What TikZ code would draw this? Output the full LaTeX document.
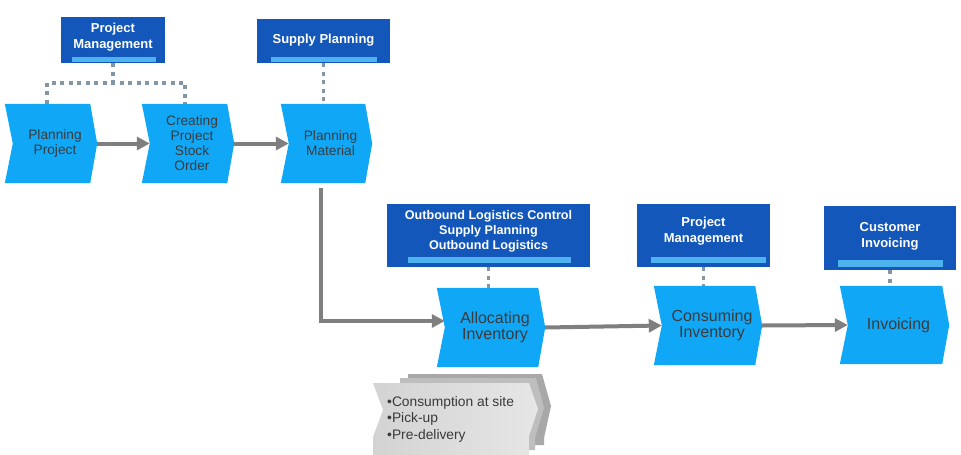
\documentclass[tikz,border=0pt]{standalone}
\usepackage{fontspec}
\setmainfont{Liberation Sans}
\usetikzlibrary{arrows.meta,backgrounds,calc}
\definecolor{chevblue}{HTML}{10A8F6}
\definecolor{boxblue}{HTML}{1257B9}
\definecolor{barblue}{HTML}{4EB2EE}
\definecolor{dotgray}{HTML}{8296A6}
\definecolor{arrgray}{HTML}{7F7F7F}
\definecolor{txtgray}{HTML}{3A3A3A}
\definecolor{stackA}{HTML}{A8A8A8}
\definecolor{stackB}{HTML}{BEBEBE}
\definecolor{stackL}{HTML}{D3D3D3}
\definecolor{stackR}{HTML}{E6E6E6}
\newcommand\chevshape[1]{%
  \fill[chevblue] ([xshift=-8pt]#1.north west) -- ([xshift=-7pt]#1.north east) -- (#1.east)
    -- ([xshift=-7pt]#1.south east) -- ([xshift=-8pt]#1.south west) -- (#1.west) -- cycle;}
\tikzset{
  chevtop/.style={rectangle, inner sep=0, align=center, text=txtgray,
    font=\fontsize{13.7}{15}\selectfont},
  chevlow/.style={rectangle, inner sep=0, align=center, text=txtgray,
    font=\fontsize{16}{16.7}\selectfont},
  bluebox/.style={rectangle, fill=boxblue, inner sep=0},
  boxtxt/.style={inner sep=0, align=center, text=white,
    font=\bfseries\fontsize{13}{16}\selectfont},
  bar/.style={fill=barblue},
  dotline/.style={draw=dotgray, line width=3.5pt, dash pattern=on 4pt off 4.5pt},
  flow/.style={draw=arrgray, line width=4pt, -{Triangle[length=13pt,width=13pt]}},
}
\begin{document}
\begin{tikzpicture}[x=1pt,y=-1pt]
\useasboundingbox (0,0) rectangle (961,455);

% ---- chevrons (node = notch..tip)
\node[chevtop, minimum width=84, minimum height=79] (pp) at (55,143.5) {Planning\\Project};
\node[chevtop, minimum width=84, minimum height=79] (cpso) at (192,143.5) {Creating\\Project\\Stock\\Order};
\node[chevtop, minimum width=83, minimum height=79] (pmat) at (330.5,143.5) {Planning\\Material};
\node[chevlow, minimum width=100, minimum height=79] (alloc) at (495,327.5) {Allocating\\Inventory};
\node[chevlow, minimum width=100, minimum height=79] (cons) at (712,325.5) {Consuming\\Inventory};
\node[chevlow, minimum width=101, minimum height=78] (inv) at (898.5,325) {Invoicing};
\begin{pgfonlayer}{background}
\fill[white] (0,0) rectangle (961,455);
\chevshape{pp}\chevshape{cpso}\chevshape{pmat}
\chevshape{alloc}\chevshape{cons}\chevshape{inv}
\end{pgfonlayer}

% ---- blue role boxes
\node[bluebox, minimum width=104, minimum height=46] (pm1) at (113,40) {};
\fill[bar] ([xshift=11pt,yshift=1.5pt]pm1.south west) rectangle ([xshift=-9pt,yshift=6.5pt]pm1.south east);
\node[boxtxt] (pm1t) at (113,36.7) {Project\\Management};

\node[bluebox, minimum width=133, minimum height=44] (sp) at (323.5,41) {};
\fill[bar] ([xshift=14pt,yshift=1.5pt]sp.south west) rectangle ([xshift=-13pt,yshift=6.5pt]sp.south east);
\node[boxtxt] (spt) at (323.5,40.5) {Supply Planning};

\node[bluebox, minimum width=203, minimum height=63] (ob) at (488.5,235.5) {};
\fill[bar] ([xshift=21pt,yshift=4pt]ob.south west) rectangle ([xshift=-19pt,yshift=10pt]ob.south east);
\node[boxtxt, font=\bfseries\fontsize{12.6}{15}\selectfont] (obt) at (488.5,231)
  {Outbound Logistics Control\\Supply Planning\\Outbound Logistics};

\node[bluebox, minimum width=133, minimum height=63] (pm2) at (703.5,235.5) {};
\fill[bar] ([xshift=14pt,yshift=4pt]pm2.south west) rectangle ([xshift=-4pt,yshift=10pt]pm2.south east);
\node[boxtxt] (pm2t) at (703.5,231) {Project\\Management};

\node[bluebox, minimum width=132, minimum height=64] (ci) at (890,238) {};
\fill[bar] ([xshift=14pt,yshift=3.5pt]ci.south west) rectangle ([xshift=-13pt,yshift=10pt]ci.south east);
\node[boxtxt] (cit) at (890,236) {Customer\\Invoicing};

% ---- dotted role connectors
\draw[dotline] (pm1.south) -- ++(0,20);
\draw[dotline] ([xshift=-8pt]pp.north) -- ++(0,-21) -| ([xshift=-7pt]cpso.north);
\draw[dotline] (sp.south) -- (sp.south |- pmat.north);
\draw[dotline] (ob.south) -- (ob.south |- alloc.north);
\draw[dotline] (pm2.south) -- (pm2.south |- cons.north);
\draw[dotline] (ci.south) -- (ci.south |- inv.north);

% ---- flow arrows
\draw[flow] (pp.east) -- (cpso.west);
\draw[flow] (cpso.east) -- (pmat.west);
\draw[flow] ([xshift=-9.5pt,yshift=-5pt]pmat.south) |- ([yshift=6.5pt]alloc.west);
\draw[flow] (alloc.east) -- (cons.west);
\draw[flow] (cons.east) -- (inv.west);

% ---- gray stacked note
\fill[stackA] (408,374) -- (542,374) -- (551,406) -- (544,438) -- (544,445) -- (408,445) -- cycle;
\fill[stackB] (400,378) -- (536,378) -- (544,408) -- (535,438) -- (535,450) -- (400,450) -- cycle;
\shade[left color=stackL, right color=stackR] (373,383) -- (529,383) -- (538,409) -- (529,436)
  -- (529,456) -- (373,456) -- (373,437) -- (383,410) -- cycle;
\node[anchor=north west, align=left, inner sep=0, text=txtgray,
  font=\fontsize{13.8}{16.5}\selectfont] (gnote) at (387,396)
  {•Consumption at site\\•Pick-up\\•Pre-delivery};
\end{tikzpicture}
\end{document}
